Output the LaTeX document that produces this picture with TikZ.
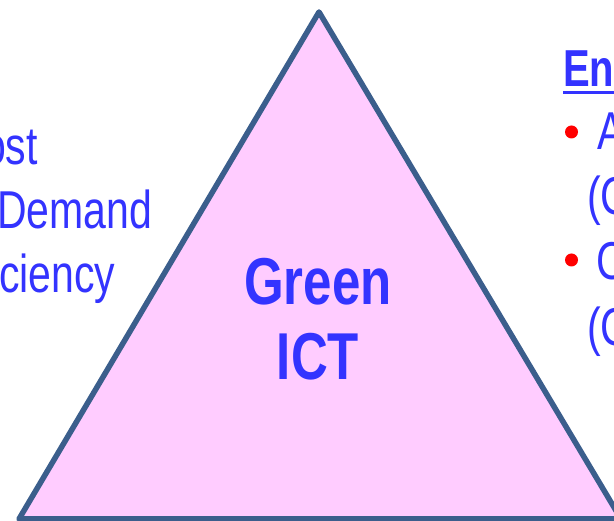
\documentclass[tikz,border=0pt]{standalone}
\usepackage{fontspec}
\setmainfont{Liberation Sans}
\usepackage{tikz}
\usetikzlibrary{positioning}

\definecolor{ictblue}{RGB}{51,51,255}
\definecolor{ictpink}{RGB}{255,204,255}
\definecolor{ictedge}{RGB}{59,94,140}

\begin{document}
\begin{tikzpicture}[x=1pt, y=1pt, inner sep=0pt,
  item/.style={text=ictblue, font=\fontsize{41}{41}\selectfont, yscale=1.3, anchor=base west},
  title/.style={text=ictblue, font=\fontsize{51}{51}\selectfont\bfseries, yscale=1.3, anchor=base},
  head/.style={text=ictblue, font=\fontsize{40}{40}\selectfont\bfseries, yscale=1.3, anchor=base west},
  dot/.style={circle, fill=red, minimum size=13pt}]
\useasboundingbox (0,0) rectangle (614,521);
\clip (0,0) rectangle (614,521);

%triangle
\coordinate (top) at (319,509);
\coordinate (bl) at (19,2);
\coordinate (br) at (621,2);
\draw[ictedge, fill=ictpink, line width=5.5pt, line join=round] (top) -- (bl) -- (br) -- cycle;

%nodes
\node[title] (green) at (318,216) {Green};
\node[title] (ict) at (318,141) {ICT};

\node[item] (ost) at (-17,356) {ost};
\node[item] (demand) at (-3,292) {Demand};
\node[item] (ciency) at (-1,228) {ciency};

\node[head] (en) at (563,434) {En};
\node[dot] (b1) at (571.5,389) {};
\node[item] (a1) at (597,371) {A};
\node[item] (c1) at (587,306) {(C};
\node[dot] (b2) at (571.5,261) {};
\node[item] (a2) at (596,241) {C};
\node[item] (c2) at (587,175) {(C};

%underline
\draw[ictblue, line width=3pt] ([yshift=-6pt]en.base west) -- ([yshift=-6pt]en.base east);
\end{tikzpicture}
\end{document}
